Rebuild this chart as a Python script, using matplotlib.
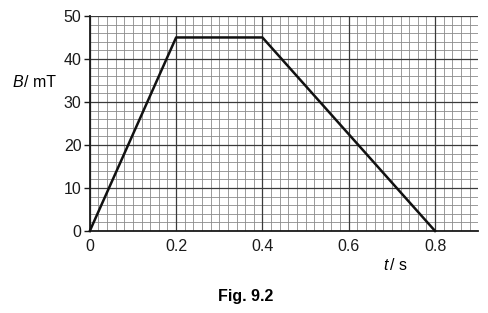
import matplotlib.pyplot as plt
from matplotlib.ticker import MultipleLocator

plt.rcParams["font.family"] = ["Liberation Sans", "DejaVu Sans"]

# data
t_values = [0.0, 0.2, 0.4, 0.8]
b_values = [0.0, 45.0, 45.0, 0.0]
x_ticks = [0, 0.2, 0.4, 0.6, 0.8]
x_tick_labels = ["0", "0.2", "0.4", "0.6", "0.8"]
y_ticks = [0, 10, 20, 30, 40, 50]

fig = plt.figure(figsize=(4.88, 3.13), dpi=100)
ax = fig.add_axes([0.184, 0.262, 0.796, 0.687])

ax.set_xlim(0, 0.9)
ax.set_ylim(0, 50)

ax.xaxis.set_minor_locator(MultipleLocator(0.02))
ax.yaxis.set_minor_locator(MultipleLocator(2))
ax.set_xticks(x_ticks)
ax.set_xticklabels(x_tick_labels)
ax.set_yticks(y_ticks)

# fine graph-paper grid, with the major lines drawn on top so they stay solid
ax.grid(which="minor", color="#8a8a8a", linewidth=0.6)
ax.set_axisbelow(True)
ax.vlines(x_ticks, 0, 50, color="#3a3a3a", linewidth=0.9, zorder=1.5)
ax.hlines(y_ticks, 0, 0.9, color="#3a3a3a", linewidth=0.9, zorder=1.5)

for side in ("top", "right"):
    ax.spines[side].set_visible(False)
for side in ("left", "bottom"):
    ax.spines[side].set_linewidth(1.3)
    ax.spines[side].set_color("#1a1a1a")
    ax.spines[side].set_zorder(2.5)

ax.tick_params(axis="y", which="major", length=4, width=1.0, labelsize=11.5,
               pad=2, colors="#1a1a1a")
ax.tick_params(axis="x", which="major", length=0, labelsize=11.5, pad=6,
               colors="#1a1a1a")
ax.tick_params(which="minor", length=0)

ax.plot(t_values, b_values, color="#111111", linewidth=1.8, zorder=3,
        clip_on=False)

fig.text(0.025, 0.735, "B", fontsize=11.5, ha="left", va="center",
         style="italic")
fig.text(0.049, 0.735, "/ mT", fontsize=11.5, ha="left", va="center")
fig.text(0.785, 0.152, "t", fontsize=11.5, ha="left", va="center",
         style="italic")
fig.text(0.799, 0.152, "/ s", fontsize=11.5, ha="left", va="center")
fig.text(0.504, 0.054, "Fig. 9.2", fontsize=11.5, ha="center", va="center",
         fontweight="bold")

fig.savefig("out.png", dpi=100, facecolor="white")
